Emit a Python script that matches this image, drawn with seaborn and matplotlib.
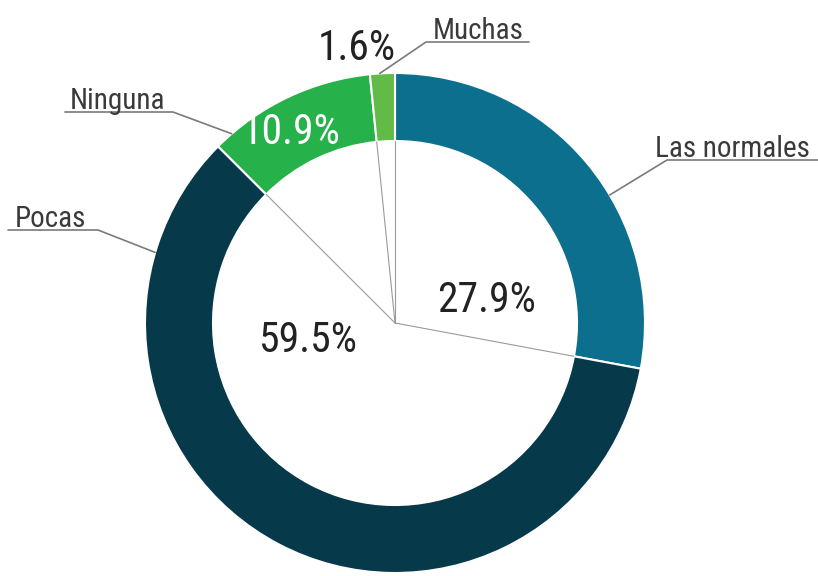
import numpy as np
import matplotlib
matplotlib.use('Agg')
import matplotlib.pyplot as plt
import seaborn as sns
from matplotlib import font_manager

# data (clockwise from the top)
categories = ['Las normales', 'Pocas', 'Ninguna', 'Muchas']
values = [27.9, 59.5, 10.9, 1.6]
colors = ['#0d6f8e', '#06394a', '#27b14b', '#63bb47']
pct_labels = ['27.9%', '59.5%', '10.9%', '1.6%']
pct_colors = ['#222222', '#222222', '#ffffff', '#222222']

sns.set_theme(style='white')

# pick a narrow font if one is installed
names = {f.name for f in font_manager.fontManager.ttflist}
font = 'DejaVu Sans'
for cand in ['Liberation Sans Narrow', 'DejaVu Sans Condensed', 'Roboto Condensed',
             'Open Sans Condensed', 'Noto Sans Condensed']:
    if cand in names:
        font = cand
        break
plt.rcParams['font.family'] = [font, 'DejaVu Sans']

W, H = 818, 576
fig = plt.figure(figsize=(W / 100, H / 100), dpi=100)
ax = fig.add_axes([0, 0, 1, 1])

cx, cy = 395, H - 323
R, ring = 250, 68

ax.pie(values, colors=colors, startangle=90, counterclock=False,
       center=(cx, cy), radius=R, frame=True,
       wedgeprops=dict(width=ring, edgecolor='white', linewidth=1.5))
ax.set_xlim(0, W)
ax.set_ylim(0, H)
ax.set_aspect('equal')
ax.axis('off')

# thin radial lines from the centre to each slice boundary
frac = np.cumsum([0] + values) / sum(values)
for f in frac[:-1]:
    a = np.deg2rad(90 - 360 * f)
    ax.plot([cx, cx + (R - ring) * np.cos(a)], [cy, cy + (R - ring) * np.sin(a)],
            color='#9a9a9a', lw=0.8, zorder=3)

# percentage labels (pixel positions from the top-left corner)
pct_pos = [(487, 301), (308, 341), (291, 133), (357, 48)]
for txt, (px, py), c in zip(pct_labels, pct_pos, pct_colors):
    ax.text(px, H - py, txt, ha='center', va='center', fontsize=30, color=c, zorder=4)

# category labels with leader lines: ring angle, elbow, end of line, text anchor, align
leaders = {
    'Las normales': (30.8, (667, 160), (818, 160), (810, 155), 'right'),
    'Pocas': (163.6, (98, 230), (8, 230), (50, 225), 'center'),
    'Ninguna': (130.8, (173, 112), (65, 112), (117, 107), 'center'),
    'Muchas': (93.5, (426, 42), (529, 42), (478, 37), 'center'),
}
for name in categories:
    ang, elbow, end, tpos, ha = leaders[name]
    a = np.deg2rad(ang)
    sx, sy = cx + R * np.cos(a), cy + R * np.sin(a)
    ax.plot([sx, elbow[0], end[0]], [sy, H - elbow[1], H - end[1]],
            color='#7a7a7a', lw=1.2, zorder=3, clip_on=False)
    ax.text(tpos[0], H - tpos[1] - 2, name, ha=ha, va='baseline',
            fontsize=21, color='#3a3a3a', zorder=4)

fig.savefig('out.png', dpi=100)
